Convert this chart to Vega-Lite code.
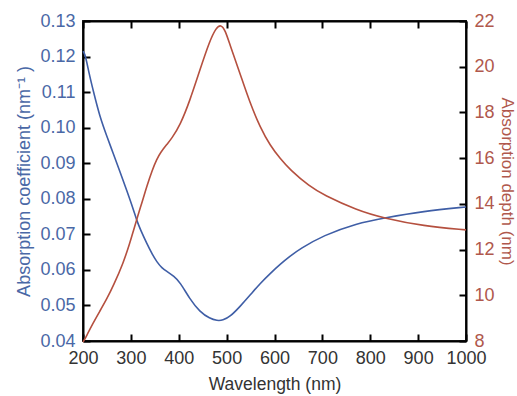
{
  "$schema": "https://vega.github.io/schema/vega-lite/v6.json",
  "width": 383,
  "height": 320,
  "autosize": {"type": "none"},
  "padding": {"left": 83, "top": 21, "right": 51, "bottom": 55},
  "background": "white",
  "config": {
    "view": {"stroke": "#222222", "strokeWidth": 2},
    "font": "Liberation Sans"
  },
  "datasets": {
    "coef": [
      {"wl": 200, "v": 0.1215}, {"wl": 205, "v": 0.1205}, {"wl": 213, "v": 0.115}, {"wl": 221, "v": 0.1106},
      {"wl": 235, "v": 0.1031}, {"wl": 250, "v": 0.0975}, {"wl": 263, "v": 0.0928}, {"wl": 277, "v": 0.0877},
      {"wl": 291, "v": 0.0825}, {"wl": 305, "v": 0.0771}, {"wl": 312, "v": 0.074}, {"wl": 320, "v": 0.0713},
      {"wl": 333, "v": 0.0675}, {"wl": 345, "v": 0.0643}, {"wl": 354, "v": 0.0623}, {"wl": 365, "v": 0.0605},
      {"wl": 375, "v": 0.0596}, {"wl": 390, "v": 0.0582}, {"wl": 403, "v": 0.0565}, {"wl": 423, "v": 0.0518},
      {"wl": 444, "v": 0.0482}, {"wl": 465, "v": 0.0463}, {"wl": 480, "v": 0.0457}, {"wl": 492, "v": 0.0458},
      {"wl": 507, "v": 0.0468}, {"wl": 528, "v": 0.0497}, {"wl": 549, "v": 0.0529}, {"wl": 570, "v": 0.0562},
      {"wl": 591, "v": 0.059}, {"wl": 612, "v": 0.0616}, {"wl": 632, "v": 0.0638}, {"wl": 653, "v": 0.0659},
      {"wl": 702, "v": 0.0697}, {"wl": 772, "v": 0.0731}, {"wl": 829, "v": 0.0746}, {"wl": 911, "v": 0.0765},
      {"wl": 1000, "v": 0.0777}
    ],
    "depth": [
      {"wl": 200, "d": 7.95}, {"wl": 207, "d": 8.2}, {"wl": 220, "d": 8.75}, {"wl": 235, "d": 9.3},
      {"wl": 250, "d": 9.85}, {"wl": 263, "d": 10.4}, {"wl": 284, "d": 11.4}, {"wl": 298, "d": 12.3},
      {"wl": 305, "d": 12.8}, {"wl": 312, "d": 13.3}, {"wl": 320, "d": 13.85}, {"wl": 326, "d": 14.25},
      {"wl": 333, "d": 14.75}, {"wl": 345, "d": 15.5}, {"wl": 354, "d": 15.95}, {"wl": 362, "d": 16.25},
      {"wl": 375, "d": 16.6}, {"wl": 385, "d": 16.85}, {"wl": 403, "d": 17.45}, {"wl": 423, "d": 18.5},
      {"wl": 444, "d": 19.85}, {"wl": 465, "d": 21.15}, {"wl": 478, "d": 21.7}, {"wl": 488, "d": 21.85},
      {"wl": 497, "d": 21.6}, {"wl": 507, "d": 20.95}, {"wl": 528, "d": 19.7}, {"wl": 549, "d": 18.4},
      {"wl": 570, "d": 17.35}, {"wl": 591, "d": 16.55}, {"wl": 612, "d": 15.98}, {"wl": 632, "d": 15.5},
      {"wl": 674, "d": 14.75}, {"wl": 702, "d": 14.4}, {"wl": 772, "d": 13.72}, {"wl": 829, "d": 13.37},
      {"wl": 911, "d": 13.03}, {"wl": 1000, "d": 12.86}
    ]
  },
  "layer": [
    {
      "data": {"name": "coef"},
      "mark": {"type": "line", "color": "#3f5ea6", "strokeWidth": 1.6, "interpolate": "basis"},
      "encoding": {
        "x": {
          "field": "wl", "type": "quantitative",
          "scale": {"domain": [200, 1000], "nice": false},
          "axis": {
            "orient": "bottom",
            "grid": false,
            "tickSize": -7, "tickColor": "black", "tickWidth": 2,
            "domainColor": "black", "domainWidth": 2,
            "format": "d",
            "labelFlush": false, "labelOverlap": false,
            "labelFont": "Liberation Sans", "labelFontSize": 18,
            "labelColor": "#333333",
            "labelPadding": 15,
            "title": "Wavelength (nm)",
            "titleFont": "Liberation Sans", "titleFontWeight": "normal",
            "titleColor": "#333333",
            "titleFontSize": 17.5,
            "titlePadding": 8
          }
        },
        "y": {
          "field": "v", "type": "quantitative",
          "scale": {"domain": [0.04, 0.13], "nice": false, "zero": false},
          "axis": {
            "orient": "left",
            "grid": false,
            "tickSize": -7, "tickColor": "black", "tickWidth": 2,
            "domainColor": "black", "domainWidth": 2,
            "labelFlush": false, "labelOverlap": false,
            "labelFont": "Liberation Sans", "labelFontSize": 18,
            "labelColor": "#4a68a6",
            "labelPadding": 15,
            "title": "Absorption coefficient (nm⁻¹ )",
            "titleFont": "Liberation Sans", "titleFontWeight": "normal",
            "titleColor": "#4a68a6",
            "titleFontSize": 18,
            "titlePadding": 6
          }
        }
      }
    },
    {
      "data": {"name": "depth"},
      "mark": {"type": "line", "color": "#b5503f", "strokeWidth": 1.6, "interpolate": "basis"},
      "encoding": {
        "x": {
          "field": "wl", "type": "quantitative",
          "scale": {"domain": [200, 1000], "nice": false},
          "axis": {
            "orient": "top",
            "grid": false,
            "tickSize": -7, "tickColor": "black", "tickWidth": 2,
            "domainColor": "black", "domainWidth": 2,
            "labels": false,
            "title": null
          }
        },
        "y": {
          "field": "d", "type": "quantitative",
          "scale": {"domain": [8, 22], "nice": false, "zero": false},
          "axis": {
            "orient": "right",
            "grid": false,
            "tickSize": -7, "tickColor": "black", "tickWidth": 2,
            "domainColor": "black", "domainWidth": 2,
            "labelFont": "Liberation Sans", "labelFontSize": 18,
            "labelColor": "#b0584c",
            "labelPadding": 15,
            "title": "Absorption depth (nm)",
            "titleFont": "Liberation Sans", "titleFontWeight": "normal",
            "titleColor": "#b0584c",
            "titleFontSize": 17,
            "titlePadding": 3
          }
        }
      }
    }
  ],
  "resolve": {"scale": {"y": "independent"}, "axis": {"x": "independent"}}
}
